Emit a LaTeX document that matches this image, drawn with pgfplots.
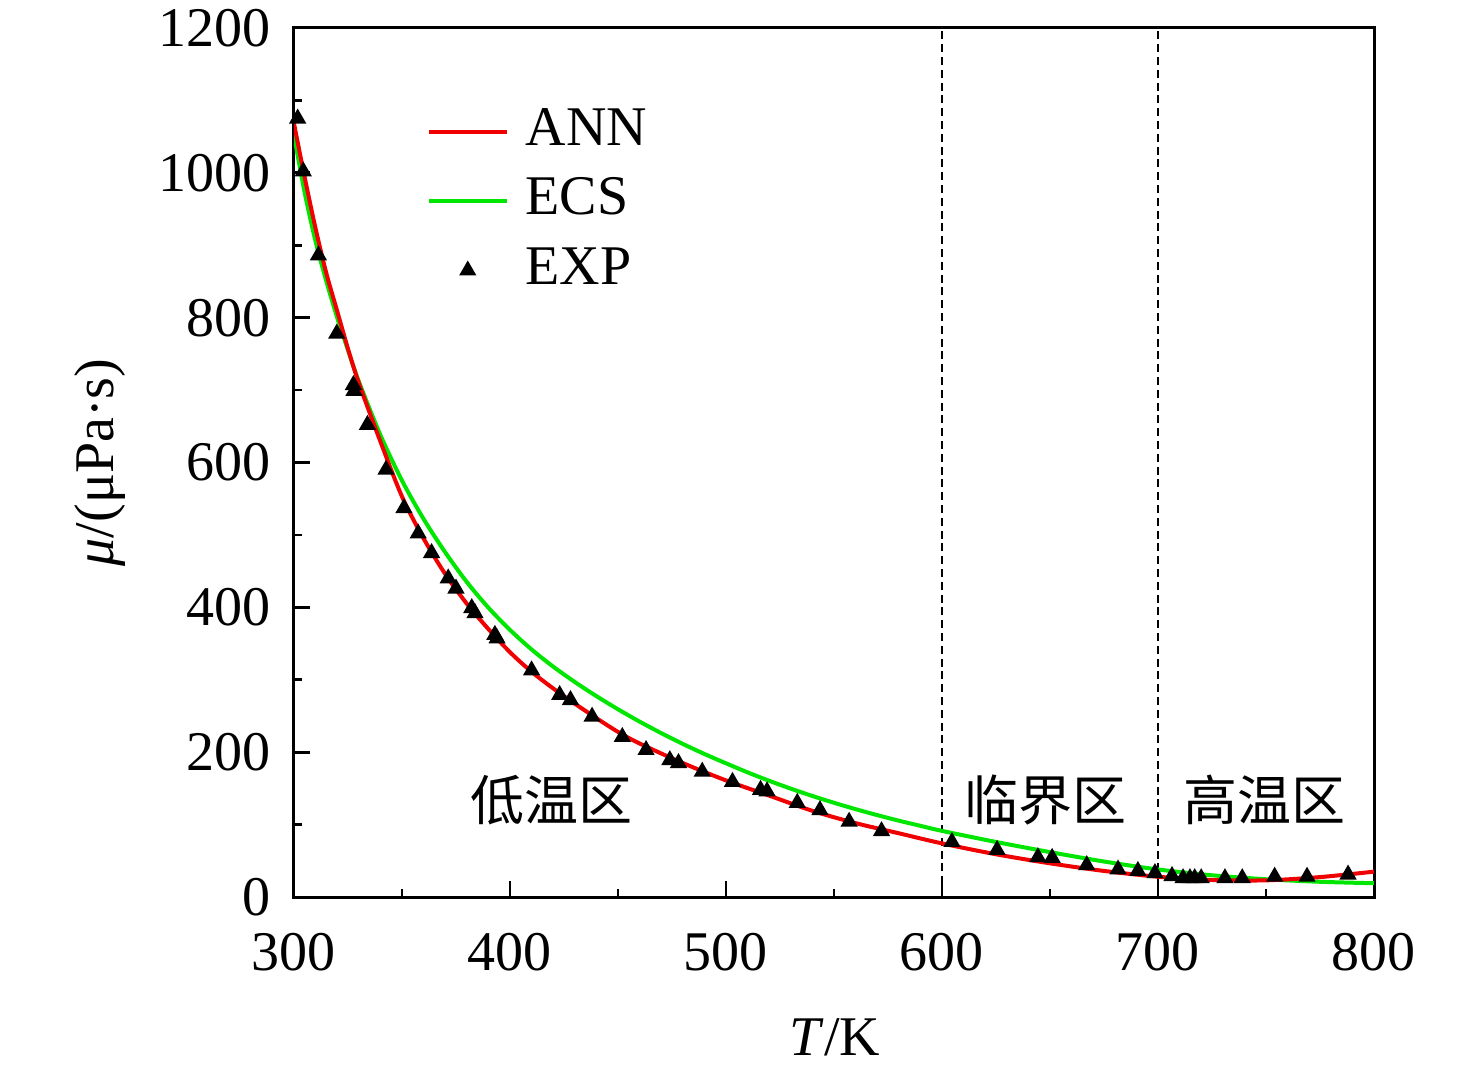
\documentclass[border=0pt]{standalone}
\usepackage{fontspec}
\setmainfont{Liberation Serif}
\newfontfamily\cjk{Noto Sans CJK SC}
\usepackage{pgfplots}
\pgfplotsset{compat=1.18}
\definecolor{annred}{RGB}{240,0,0}
\definecolor{ecsgreen}{RGB}{0,230,0}
\newcommand{\fs}{\fontsize{14}{16}\selectfont}
\newcommand{\cfs}{\fontsize{13.5}{15}\selectfont}
\pgfplotsset{
  linelegend/.style={legend image code/.code={\draw[##1] (0pt,0pt) -- (19.5pt,0pt);}},
  marklegend/.style={legend image code/.code={\draw[##1] plot coordinates {(9.75pt,0pt)};}},
}
\begin{document}
\begin{tikzpicture}
\begin{axis}[
  width=270pt, height=217.25pt, scale only axis,
  xmin=300, xmax=800, ymin=0, ymax=1200,
  xtick={300,400,...,800}, ytick={0,200,...,1200},
  minor x tick num=1, minor y tick num=1,
  xtick pos=bottom, ytick pos=left, tick align=inside,
  major tick length=4pt, minor tick length=2pt,
  every tick/.style={black, line width=0.7pt},
  axis line style={line width=0.75pt},
  ticklabel style={font=\fs, inner sep=0pt},
  xticklabel style={yshift=-8.75pt},
  yticklabel style={xshift=-5.75pt},
  /pgf/number format/assume math mode=true,
  /pgf/number format/set thousands separator={},
  xlabel={\textit{T}/K}, ylabel={\textit{μ}/(μPa·s)},
  label style={font=\fs},
  xlabel style={at={(axis description cs:0.501,0)}, anchor=center, yshift=-35pt},
  ylabel style={at={(axis description cs:-0.1796,0.5)}, anchor=center},
  legend style={at={(axis description cs:0.1222,0.9152)}, anchor=north west,
    draw=none, fill=none, font=\fs, inner sep=0pt, row sep=2.5pt, column sep=3.25pt,
    nodes={inner sep=1pt, text height=9.8pt, text depth=3pt}},
  legend cell align=left,
]
\addlegendimage{annred, line width=1pt, linelegend}
\addlegendentry{ANN}
\addlegendimage{ecsgreen, line width=1pt, linelegend}
\addlegendentry{ECS}
\addlegendimage{only marks, mark=triangle*, mark size=2.1pt, black, marklegend}
\addlegendentry{EXP}

\addplot[forget plot, black, line width=0.4pt, dash pattern=on 2pt off 1.2pt] coordinates {(600,0) (600,1200)};
\addplot[forget plot, black, line width=0.4pt, dash pattern=on 2pt off 1.2pt] coordinates {(700,0) (700,1200)};

% ECS
\addplot[forget plot, ecsgreen, line width=1pt, smooth] coordinates {
(300,1052) (305,972) (310,905) (315,850) (320,800) (325,755) (330,712)
(340,638) (350,575) (360,522) (370,476) (380,435) (390,399.5) (400,368.8)
(410,341.8) (420,318.1) (430,296.9) (440,277.4) (450,259.2) (460,242.2)
(470,226.3) (480,211.4) (490,197.5) (500,184.6) (510,172.1) (520,160.5)
(530,149.6) (540,139.5) (550,130.1) (560,121.3) (570,113.1) (580,105.4)
(590,98.3) (600,91.3) (625,76) (650,62) (675,49) (700,38) (725,30)
(750,24.5) (775,21) (800,19)};

% ANN
\addplot[forget plot, annred, line width=1pt, smooth] coordinates {
(300,1068) (305,993) (310,923) (315,861) (320,809) (325,757) (330,710)
(340,629) (350,553) (360,495) (370,446) (380,405) (390,370) (400,338)
(410,311) (420,288) (430,267) (440,247) (450,228) (460,212) (480,185)
(500,161) (520,140) (540,119) (560,102) (580,88) (600,74) (625,59)
(650,46.5) (675,36) (700,28) (725,23.5) (750,23) (775,27.5) (800,35)};

% EXP
\addplot[forget plot, only marks, mark=triangle*, mark size=2.1pt, black] coordinates {
(301.7,1075) (304.3,1002) (311.3,886) (319.8,778) (327.5,707) (327.8,699)
(334,652) (342.6,590) (350.9,537) (357.5,502) (363.7,475) (371.4,440)
(375,426) (382.3,399) (383.8,392) (393,362) (394,357) (410,313)
(423,279) (428,272) (438,249) (452,221) (463,203) (474,189) (478,185)
(489,173) (503,159) (516,148) (519,146) (533,130) (543.5,120) (557,104)
(572,91) (604.6,76) (625.5,65) (644.4,55) (651,54) (667,44) (681.5,38)
(690.7,36) (698.6,33) (706.5,29) (711.6,26) (714.8,26) (717,26) (720,26)
(731,26) (739,26) (754,28) (769,28) (788,31)};

\node[font=\cjk\cfs] at (axis cs:419,134) {低温区};
\node[font=\cjk\cfs] at (axis cs:647.7,134) {临界区};
\node[font=\cjk\cfs] at (axis cs:749.5,134) {高温区};
\end{axis}
\path ([xshift=-73.5pt, yshift=-43.5pt]current axis.south west) rectangle ([xshift=25.5pt, yshift=7pt]current axis.north east);
\end{tikzpicture}
\end{document}
